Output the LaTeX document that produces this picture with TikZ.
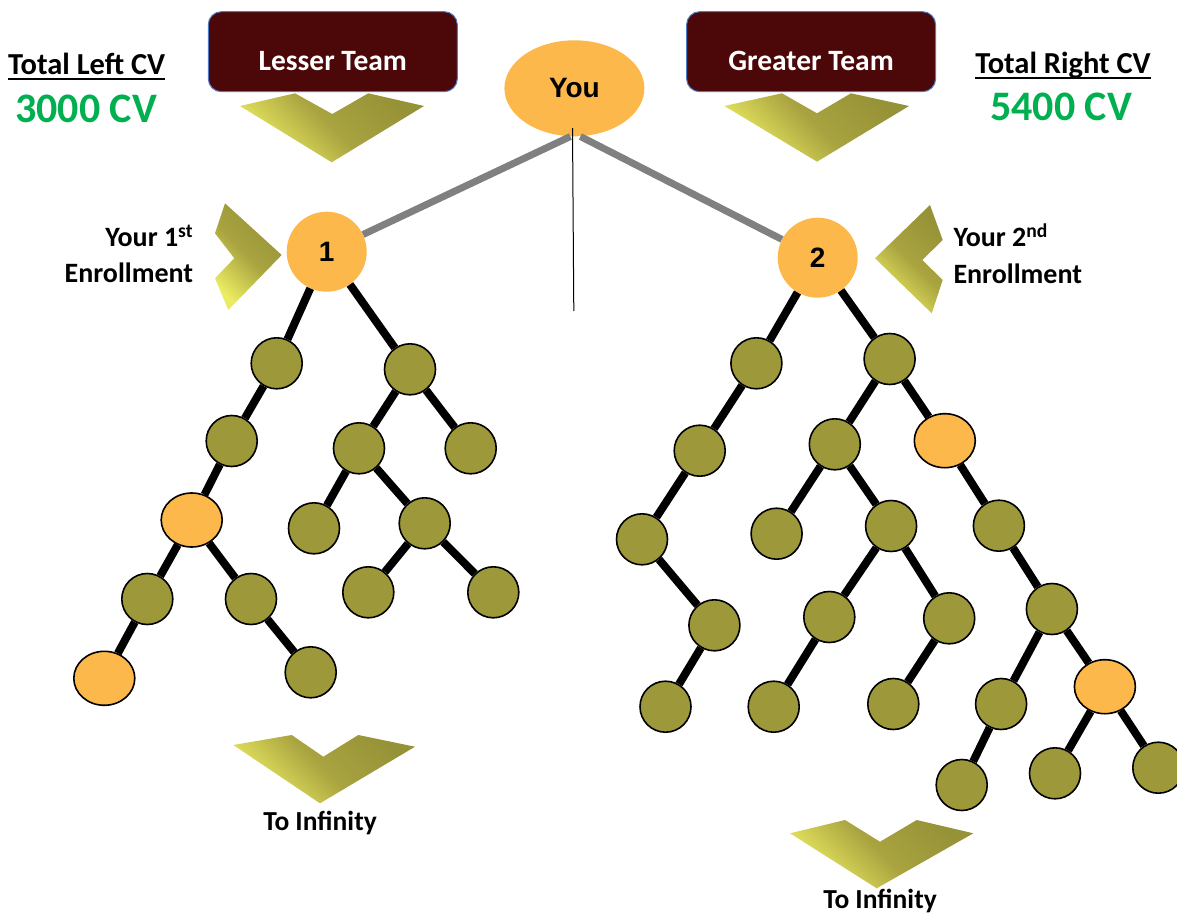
\documentclass[tikz,border=0pt]{standalone}
\usepackage{fontspec}
\setmainfont{Carlito}
\newfontfamily\arialf{Liberation Sans}
\usetikzlibrary{shapes.geometric}
\definecolor{olivefill}{HTML}{9D983A}
\definecolor{orangefill}{HTML}{FDB84B}
\definecolor{boxfill}{HTML}{4C0709}
\definecolor{boxline}{HTML}{4F7AC7}
\definecolor{cvgreen}{HTML}{00B050}
\definecolor{chevdark}{HTML}{969237}
\definecolor{chevmid}{HTML}{A9A440}
\definecolor{chevlight}{HTML}{ECEC62}
\definecolor{linkgray}{HTML}{808080}
\tikzset{
  mem/.style={circle, draw=black, line width=1.6pt, fill=olivefill, minimum size=51pt, inner sep=0pt},
  hot/.style={ellipse, draw=black, line width=1.6pt, fill=orangefill, minimum width=61pt, minimum height=54pt, inner sep=0pt},
  leadnode/.style={circle, fill=orangefill, minimum size=80pt, inner sep=0pt, font=\arialf\bfseries\fontsize{28}{32}\selectfont},
  youstyle/.style={ellipse, fill=orangefill, minimum width=140pt, minimum height=96pt, inner sep=0pt, font=\arialf\bfseries\fontsize{28}{32}\selectfont},
  link/.style={line width=8pt, black},
  graylink/.style={line width=7pt, linkgray},
  teambox/.style={rectangle, rounded corners=13pt, draw=boxline, line width=1pt, fill=boxfill, minimum width=249pt, minimum height=80pt, inner sep=0pt, text=white, font=\bfseries\fontsize{29.5}{34}\selectfont},
  chev/.style={top color=chevdark, bottom color=chevlight, middle color=chevmid, shading angle=-45},
  label/.style={inner sep=0pt, font=\bfseries\fontsize{28}{36.7}\selectfont},
  cvtext/.style={inner sep=0pt, anchor=base, text=cvgreen, font=\bfseries\fontsize{42}{48}\selectfont},
}
\begin{document}
\begin{tikzpicture}[x=1pt,y=-1pt]
\useasboundingbox (0,0) rectangle (1177,915);
\clip (0,0) rectangle (1177,915);

% headers
\node[label, anchor=base, font=\bfseries\fontsize{30.5}{34}\selectfont] (tlcv) at (86.7,75) {Total Left CV};
\draw[line width=2pt] ([yshift=-4pt]tlcv.base west) -- ([yshift=-4pt]tlcv.base east);
\node[cvtext] (lcv) at (86,123) {3000 CV};
\node[label, anchor=base, font=\bfseries\fontsize{30.5}{34}\selectfont] (trcv) at (1063,73.3) {Total Right CV};
\draw[line width=2pt] ([yshift=-5pt]trcv.base west) -- ([yshift=-5pt]trcv.base east);
\node[cvtext] (rcv) at (1061,121) {5400 CV};

\node[teambox] (lesser) at (332.8,51.7) {\raisebox{-19pt}[0pt][0pt]{Lesser Team}};
\node[teambox] (greater) at (811.1,51.7) {\raisebox{-19pt}[0pt][0pt]{Greater Team}};

% chevrons
\shade[chev] (240,106) -- (295,93.3) -- (332.3,114) -- (368.3,93.3) -- (424,106) -- (331.7,162.3) -- cycle;
\shade[chev] (724.4,106) -- (782,93.3) -- (817,113.3) -- (851,93.3) -- (909,106) -- (817,161.7) -- cycle;
\shade[chev] (225,203.3) -- (281.7,255) -- (228.3,310) -- (215,278.3) -- (234.3,258.3) -- (215,233.3) -- cycle;
\shade[chev] (930,205) -- (942.7,240) -- (922.3,260) -- (942.7,280) -- (931.7,313.3) -- (875,258.3) -- cycle;
\shade[chev] (233.3,745) -- (291.7,735) -- (323.3,756.7) -- (358.3,735) -- (415,746.7) -- (320,803.3) -- cycle;
\shade[chev] (790,833.3) -- (845,820) -- (880,841.7) -- (916.7,820) -- (973.3,833.3) -- (876.7,888.3) -- cycle;

% enrollment labels
\node[label, align=right, anchor=east] (e1) at (193.3,254) {Your 1\textsuperscript{st}\\Enrollment};
\node[label, align=left, anchor=west] (e2) at (953.3,254) {Your 2\textsuperscript{nd}\\Enrollment};

% infinity labels
\node[label, anchor=base, font=\bfseries\fontsize{27.5}{32}\selectfont] (inf1) at (320,830) {To Infinity};
\node[label, anchor=base, font=\bfseries\fontsize{27.5}{32}\selectfont] (inf2) at (880,908.5) {To Infinity};

% top nodes
\node[youstyle] (you) at (574.4,88.3) {You};
\node[leadnode] (n1) at (326.7,251.7) {1};
\node[leadnode] (n2) at (817.7,257.7) {2};
\draw[graylink] ([xshift=-4pt]you.south) -- (n1);
\draw[graylink] ([xshift=6pt]you.south) -- (n2);
\coordinate (divtop) at (572.5,128);
\coordinate (divbot) at (573.8,311);
\draw[line width=1pt, black] (divtop) -- (divbot);

% left tree
\node[mem] (la) at (276.7,363.3) {};
\node[mem] (lb) at (231.7,441) {};
\node[hot] (lc) at (191.7,520) {};
\node[mem] (ld) at (147.3,599) {};
\node[mem] (le) at (251,599) {};
\node[hot] (lf) at (104.3,678.3) {};
\node[mem] (lg) at (310.7,672.3) {};
\node[mem] (ra) at (410,369.3) {};
\node[mem] (rb) at (359,448.3) {};
\node[mem] (rc) at (470.7,448.3) {};
\node[mem] (rd) at (314,528.3) {};
\node[mem] (re) at (424.7,523.3) {};
\node[mem] (rf) at (368.3,592.3) {};
\node[mem] (rg) at (493.3,592.3) {};
\foreach \a/\b in {n1/la,n1/ra,la/lb,lb/lc,lc/ld,lc/le,ld/lf,le/lg,ra/rb,ra/rc,rb/rd,rb/re,re/rf,re/rg}
  \draw[link] (\a) -- (\b);

% right tree
\node[mem] (a1) at (756.4,363.3) {};
\node[mem] (a2) at (699.7,450.7) {};
\node[mem] (a3) at (642,539.3) {};
\node[mem] (a4) at (714.4,625.3) {};
\node[mem] (a5) at (665.5,706.7) {};
\node[mem] (b1) at (889.6,359) {};
\node[mem] (b2) at (834.8,444.3) {};
\node[hot] (b3) at (944.8,440.7) {};
\node[mem] (b4) at (776.6,533.7) {};
\node[mem] (b5) at (891.1,526) {};
\node[mem] (b6) at (829.3,617) {};
\node[mem] (b7) at (949.2,618.3) {};
\node[mem] (b8) at (773.7,706.7) {};
\node[mem] (b9) at (893.3,704) {};
\node[mem] (c1) at (998.9,525.7) {};
\node[mem] (c2) at (1051.9,609) {};
\node[mem] (c3) at (1001.1,704) {};
\node[hot] (c4) at (1104.9,686.7) {};
\node[mem] (d1) at (961.7,785) {};
\node[mem] (d2) at (1055,773.3) {};
\node[mem] (d3) at (1158.3,767.7) {};
\foreach \a/\b in {n2/a1,n2/b1,a1/a2,a2/a3,a3/a4,a4/a5,b1/b2,b1/b3,b2/b4,b2/b5,b5/b6,b5/b7,b6/b8,b7/b9,b3/c1,c1/c2,c2/c3,c2/c4,c3/d1,c4/d2,c4/d3}
  \draw[link] (\a) -- (\b);
\end{tikzpicture}
\end{document}
